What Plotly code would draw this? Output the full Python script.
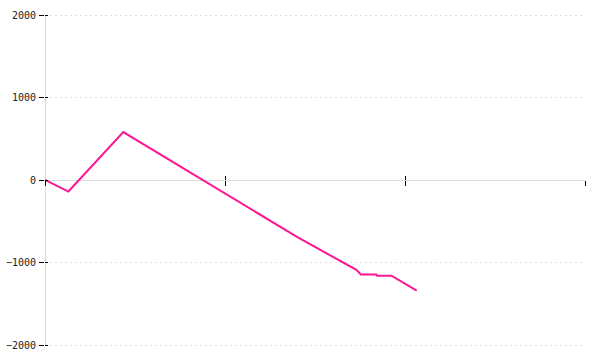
import plotly.graph_objects as go

# Data
x_vals = [0, 1.3, 4.35, 14, 17.3, 17.55, 18.4, 18.45, 19.25, 20.65]
y_vals = [0, -140, 580, -690, -1090, -1145, -1145, -1160, -1160, -1340]

y_ticks = [-2000, -1000, 0, 1000, 2000]
x_ticks = [0, 10, 20, 30]

x_range = [0, 30]
y_range = [-2036.4, 2036.4]

fig = go.Figure()
fig.add_trace(go.Scatter(
    x=x_vals, y=y_vals, mode="lines",
    line=dict(color="#ff1493", width=2),
    hoverinfo="x+y", showlegend=False,
))
# helper (empty) trace to instantiate overlay axes for crossing ticks
fig.add_trace(go.Scatter(x=[], y=[], xaxis="x2", yaxis="y2",
                         showlegend=False, hoverinfo="skip"))

tick_font = dict(family="DejaVu Sans Mono", size=10, color="#222")

fig.update_layout(
    width=600, height=360,
    margin=dict(l=45, r=15, t=12, b=12),
    paper_bgcolor="white", plot_bgcolor="white",
    xaxis=dict(
        range=x_range, tickvals=x_ticks, showticklabels=False,
        ticks="outside", ticklen=5, tickcolor="#000", tickwidth=1,
        showgrid=False, zeroline=False, showline=False,
        anchor="free", position=0.5, automargin=False,
    ),
    xaxis2=dict(
        range=x_range, tickvals=x_ticks, showticklabels=False,
        ticks="inside", ticklen=4, tickcolor="#000", tickwidth=1,
        showgrid=False, zeroline=False, showline=False,
        overlaying="x", anchor="free", position=0.5, automargin=False,
    ),
    yaxis=dict(
        range=y_range, tickvals=y_ticks, ticks="outside", ticklen=5,
        tickcolor="#000", tickwidth=1, tickfont=tick_font,
        showgrid=True, gridcolor="#dedede", griddash="2px,3px", gridwidth=1,
        zeroline=True, zerolinecolor="#dddddd", zerolinewidth=1,
        showline=False, automargin=False,
        ticklabelstandoff=1,
    ),
    yaxis2=dict(
        range=y_range, tickvals=y_ticks, showticklabels=False,
        ticks="inside", ticklen=3, tickcolor="#000", tickwidth=1,
        showgrid=False, zeroline=False, showline=False,
        overlaying="y", anchor="x", side="left", automargin=False,
    ),
    shapes=[dict(type="line", xref="x", yref="y", x0=x_range[0], x1=x_range[0],
                 y0=y_ticks[0], y1=y_ticks[-1],
                 line=dict(color="#c8c8c8", width=1.3), layer="below")],
)

fig.write_html("out.html")
